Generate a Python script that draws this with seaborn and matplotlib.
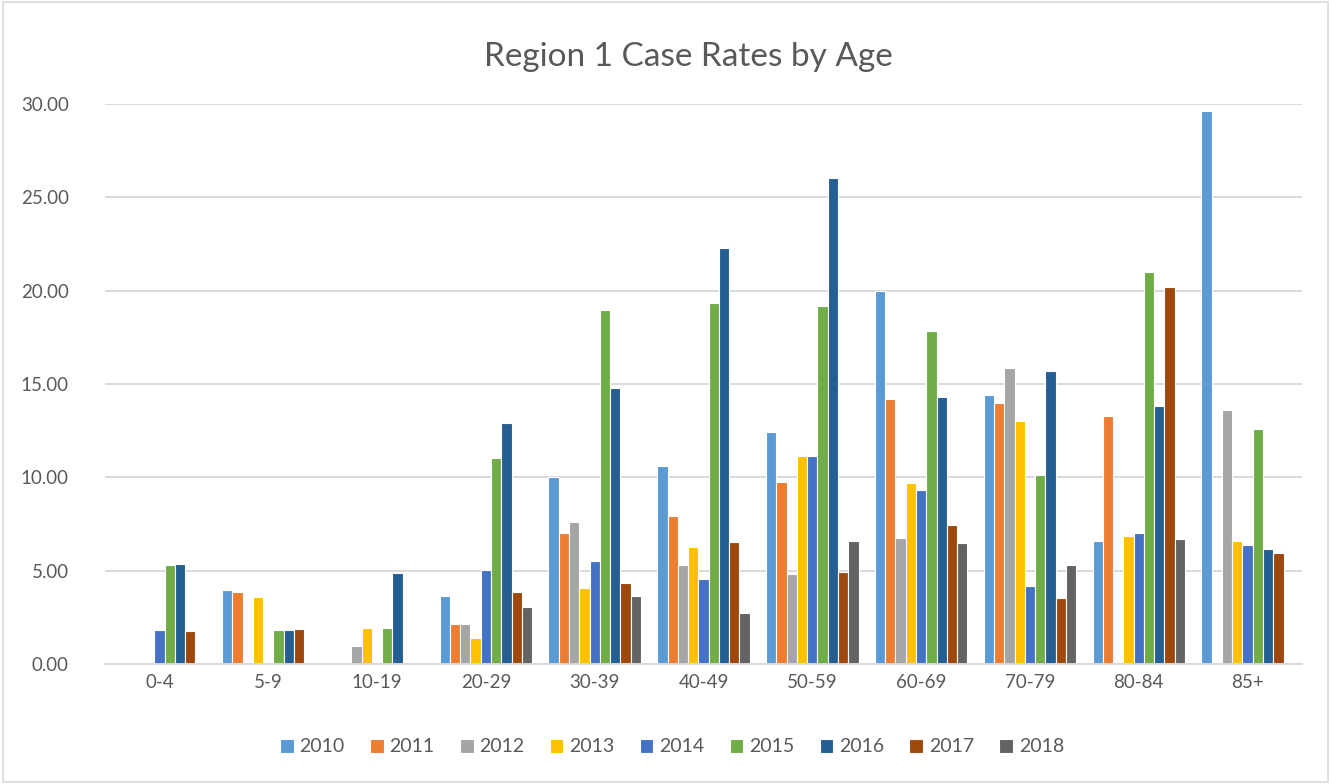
import pandas as pd
import seaborn as sns
import matplotlib.pyplot as plt
from matplotlib.patches import Rectangle
from matplotlib.ticker import FormatStrFormatter

# Age groups and yearly case rates
age_groups = ["0-4", "5-9", "10-19", "20-29", "30-39", "40-49",
              "50-59", "60-69", "70-79", "80-84", "85+"]
years = ["2010", "2011", "2012", "2013", "2014", "2015", "2016", "2017", "2018"]

rates_2010 = [0, 3.95, 0, 3.65, 10.0, 10.6, 12.45, 20.0, 14.4, 6.6, 29.6]
rates_2011 = [0, 3.85, 0.08, 2.15, 7.0, 7.95, 9.75, 14.2, 14.0, 13.3, 0]
rates_2012 = [0, 0, 0.95, 2.15, 7.6, 5.3, 4.8, 6.75, 15.85, 0, 13.6]
rates_2013 = [0, 3.6, 1.95, 1.4, 4.05, 6.25, 11.15, 9.7, 13.0, 6.85, 6.6]
rates_2014 = [1.8, 0, 0, 5.05, 5.5, 4.55, 11.15, 9.3, 4.2, 7.0, 6.4]
rates_2015 = [5.3, 1.8, 1.95, 11.05, 18.95, 19.35, 19.2, 17.85, 10.1, 21.0, 12.6]
rates_2016 = [5.35, 1.8, 4.9, 12.9, 14.8, 22.3, 26.05, 14.3, 15.7, 13.8, 6.15]
rates_2017 = [1.75, 1.85, 0, 3.85, 4.35, 6.55, 4.95, 7.45, 3.55, 20.2, 5.95]
rates_2018 = [0, 0, 0, 3.05, 3.65, 2.75, 6.6, 6.5, 5.3, 6.7, 0]

series = [rates_2010, rates_2011, rates_2012, rates_2013, rates_2014,
          rates_2015, rates_2016, rates_2017, rates_2018]

colors = ["#5B9BD5", "#ED7D31", "#A5A5A5", "#FFC000", "#4472C4",
          "#70AD47", "#255E91", "#9E480E", "#636363"]

# Build a long-form table for seaborn
rows = []
for year, vals in zip(years, series):
    for age, v in zip(age_groups, vals):
        rows.append({"Age": age, "Year": year, "Rate": v})
df = pd.DataFrame(rows)

sns.set_style("white")
plt.rcParams['font.family'] = ['Lato', 'DejaVu Sans']
text_color = "#595959"
grid_color = "#D9D9D9"

fig = plt.figure(figsize=(13.31, 7.84), dpi=100)
ax = fig.add_axes([105 / 1331, 1 - 664 / 784, (1302 - 105) / 1331, (664 - 104) / 784])

sns.barplot(data=df, x="Age", y="Rate", hue="Year", order=age_groups,
            hue_order=years, palette=colors, width=0.85,
            edgecolor="white", linewidth=0.8, saturation=1, ax=ax, legend=True)

ax.set_ylim(0, 30)
ax.set_xlim(-0.5, len(age_groups) - 0.5)
ax.set_yticks([0, 5, 10, 15, 20, 25, 30])
ax.yaxis.set_major_formatter(FormatStrFormatter('%.2f'))
ax.yaxis.grid(True, color=grid_color, linewidth=1.4)
ax.set_axisbelow(True)
for side in ["top", "right", "left"]:
    ax.spines[side].set_visible(False)
ax.spines["bottom"].set_color(grid_color)
ax.spines["bottom"].set_linewidth(1.4)
ax.tick_params(axis="y", length=0, pad=26, labelsize=13.5, labelcolor=text_color)
ax.tick_params(axis="x", length=0, pad=7, labelsize=13.5, labelcolor=text_color)
ax.set_xlabel("")
ax.set_ylabel("")

fig.suptitle("Region 1 Case Rates by Age", x=688 / 1331, y=1 - 57 / 784, va="center",
             fontsize=24, color=text_color)

handles, labels = ax.get_legend_handles_labels()
ax.get_legend().remove()
fig.legend(handles, labels, loc="center", bbox_to_anchor=(672 / 1331, 1 - 747 / 784),
           ncol=9, frameon=False, fontsize=14, labelcolor=text_color,
           handlelength=0.7, handleheight=0.7, handletextpad=0.3,
           columnspacing=1.3)

# light chart border
fig.patches.append(Rectangle((0.002, 0.003), 0.996, 0.994, transform=fig.transFigure,
                             fill=False, edgecolor=grid_color, linewidth=1.2))

fig.savefig("out.png", dpi=100)
